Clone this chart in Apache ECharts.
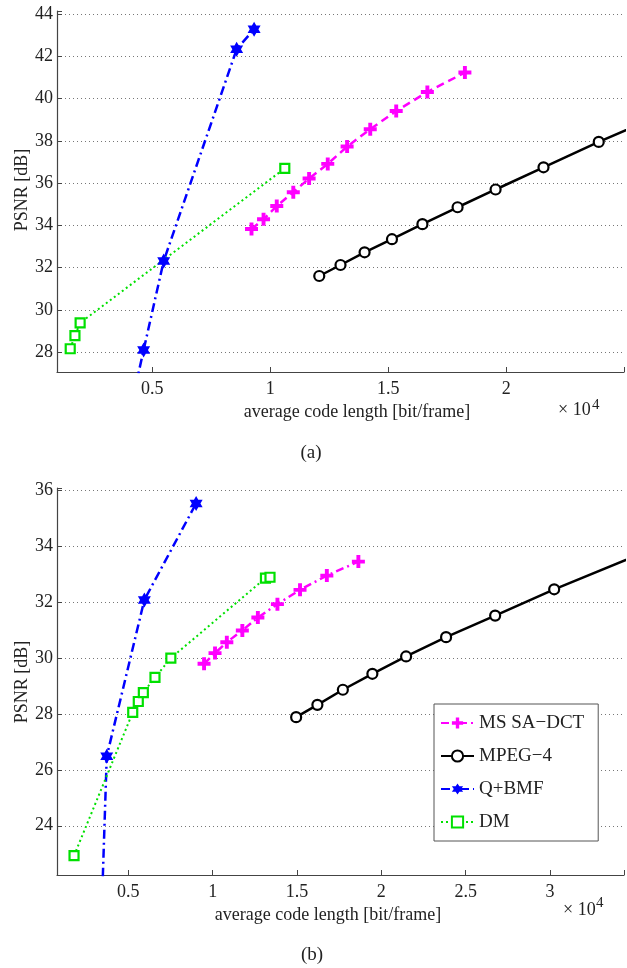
<!DOCTYPE html>
<html>
<head>
<meta charset="utf-8">
<title>PSNR vs code length</title>
<script src="https://cdn.jsdelivr.net/npm/echarts@6/dist/echarts.min.js"></script>
<style>
    html, body {margin: 0; padding: 0; background: #fff;}
    #main {width: 627px; height: 968px;}
</style>
</head>
<body>
<div id="main"></div>
<script>
// (a) 上图数据
var xA_ms = [0.921, 0.972, 1.028, 1.098, 1.165, 1.244, 1.326, 1.424, 1.534, 1.666, 1.825];
var yA_ms = [33.83, 34.29, 34.92, 35.57, 36.22, 36.91, 37.73, 38.55, 39.41, 40.31, 41.23];
var xA_mpeg = [1.208, 1.298, 1.400, 1.516, 1.645, 1.794, 1.955, 2.158, 2.392, 2.62];
var yA_mpeg = [31.61, 32.13, 32.73, 33.35, 34.06, 34.86, 35.70, 36.75, 37.95, 39.05];
var xA_q = [0.43, 0.464, 0.549, 0.858, 0.932];
var yA_q = [26.4, 28.11, 32.32, 42.33, 43.28];
var xA_dm = [0.153, 0.173, 0.195, 1.062];
var yA_dm = [28.17, 28.79, 29.39, 36.70];

// (b) 下图数据
var xB_ms = [0.949, 1.014, 1.084, 1.176, 1.268, 1.384, 1.518, 1.677, 1.864];
var yB_ms = [29.79, 30.17, 30.56, 30.98, 31.44, 31.92, 32.43, 32.94, 33.44];
var xB_mpeg = [1.495, 1.621, 1.772, 1.947, 2.147, 2.384, 2.675, 3.025, 3.55];
var yB_mpeg = [27.88, 28.32, 28.86, 29.43, 30.05, 30.74, 31.51, 32.45, 33.75];
var xB_q = [0.345, 0.372, 0.595, 0.902];
var yB_q = [21.5, 26.48, 32.07, 35.52];
var xB_dm = [0.178, 0.526, 0.559, 0.589, 0.658, 0.752, 1.313, 1.340];
var yB_dm = [22.93, 28.05, 28.44, 28.76, 29.30, 29.99, 32.85, 32.88];

var names = ['MS SA\u2212DCT', 'MPEG\u22124', 'Q+BMF', 'DM'];

var FONT = 'Liberation Serif';
var PLUS = 'path://M3.5,0h3v3.5h3.5v3h-3.5v3.5h-3v-3.5h-3.5v-3h3.5z';
var HEXA = 'path://M10,0L12.89,5L18.66,5L15.77,10L18.66,15L12.89,15L10,20L7.11,15L1.34,15L4.23,10L1.34,5L7.11,5Z';

function pairs(xs, ys) {
    return xs.map(function (x, i) { return [x, ys[i]]; });
}

function xAxisOf(idx, min, max) {
    return {
        type: 'value', gridIndex: idx, min: min, max: max,
        splitNumber: 6, minInterval: 0.5, maxInterval: 0.5,
        axisLine: {lineStyle: {color: '#444', width: 1.2}},
        axisTick: {inside: true, length: 5, lineStyle: {color: '#444'}},
        axisLabel: {
            margin: 8, color: '#222', fontFamily: FONT, fontSize: 18,
            formatter: function (v) {
                return Math.abs(v * 2 - Math.round(v * 2)) < 1e-6 ? String(v) : '';
            }
        },
        splitLine: {show: false}
    };
}

function yAxisOf(idx, min, max) {
    return {
        type: 'value', gridIndex: idx, min: min, max: max,
        splitNumber: 8, minInterval: 2, maxInterval: 2,
        axisLine: {show: true, lineStyle: {color: '#444', width: 1.2}},
        axisTick: {show: true, inside: true, length: 5, lineStyle: {color: '#444'}},
        axisLabel: {
            margin: 4, color: '#222', fontFamily: FONT, fontSize: 18,
            formatter: function (v) {
                return Math.abs(v - Math.round(v)) < 1e-6 ? String(v) : '';
            }
        },
        splitLine: {
            show: true, showMinLine: false, showMaxLine: false,
            lineStyle: {color: '#777', width: 1, type: [1, 3]}
        }
    };
}

function series(name, idx, data, style) {
    return {
        name: name, type: 'line', xAxisIndex: idx, yAxisIndex: idx,
        data: data, clip: true, showAllSymbol: true,
        symbol: style.symbol, symbolSize: style.size, symbolKeepAspect: true,
        lineStyle: {color: style.color, width: style.width, type: style.dash},
        itemStyle: {color: style.fill, borderColor: style.color, borderWidth: style.border},
        emphasis: {disabled: true}
    };
}

var S_MS = {color: '#ff00ff', fill: '#ff00ff', symbol: PLUS, size: 13, width: 2.5, border: 0};
var S_MPEG = {color: '#000', fill: '#fff', symbol: 'circle', size: 10, width: 2.5, border: 2.2, dash: 'solid'};
var S_Q = {color: '#0000ff', fill: '#0000ff', symbol: HEXA, size: 15, width: 2.5, border: 0, dash: [9, 4, 2, 4]};
var S_DM = {color: '#00e000', fill: '#fff', symbol: 'rect', size: 9, width: 2, border: 2.2, dash: [2, 3]};

function withDash(s, dash) {
    var o = {};
    for (var k in s) o[k] = s[k];
    o.dash = dash;
    return o;
}

var chart = echarts.init(document.getElementById('main'), null, {renderer: 'canvas'});

var option = {
    animation: false,
    backgroundColor: '#fff',
    grid: [
        {left: 57, top: 11, width: 567, height: 361},
        {left: 57, top: 488, width: 567, height: 387}
    ],
    xAxis: [xAxisOf(0, 0.097, 2.499), xAxisOf(1, 0.077, 3.439)],
    yAxis: [yAxisOf(0, 27.07, 44.14), yAxisOf(1, 22.24, 36.07)],
    legend: {
        data: names,
        orient: 'vertical',
        left: 434, top: 704,
        padding: [9, 14, 9, 6],
        itemGap: 13,
        itemWidth: 33, itemHeight: 14,
        backgroundColor: '#fff',
        borderColor: '#555', borderWidth: 1,
        selectedMode: false,
        textStyle: {fontFamily: FONT, fontSize: 19, color: '#222', lineHeight: 20}
    },
    series: [
        // 下图 (b)，放前面以便图例取它们的线型
        series(names[0], 1, pairs(xB_ms, yB_ms), withDash(S_MS, [8, 4, 2, 4])),
        series(names[1], 1, pairs(xB_mpeg, yB_mpeg), S_MPEG),
        series(names[2], 1, pairs(xB_q, yB_q), S_Q),
        series(names[3], 1, pairs(xB_dm, yB_dm), S_DM),
        // 上图 (a)
        series('a1', 0, pairs(xA_ms, yA_ms), withDash(S_MS, [8, 5])),
        series('a2', 0, pairs(xA_mpeg, yA_mpeg), S_MPEG),
        series('a3', 0, pairs(xA_q, yA_q), S_Q),
        series('a4', 0, pairs(xA_dm, yA_dm), S_DM)
    ],
    graphic: [
        {type: 'text', x: 22, y: 190, rotation: Math.PI / 2,
            style: {text: 'PSNR [dB]', font: '18px "Liberation Serif"', fill: '#222', align: 'center', verticalAlign: 'middle'}},
        {type: 'text', x: 22, y: 682, rotation: Math.PI / 2,
            style: {text: 'PSNR [dB]', font: '18px "Liberation Serif"', fill: '#222', align: 'center', verticalAlign: 'middle'}},
        {type: 'text', x: 357, y: 412,
            style: {text: 'average code length [bit/frame]', font: '18px "Liberation Serif"', fill: '#222', align: 'center', verticalAlign: 'middle'}},
        {type: 'text', x: 328, y: 915,
            style: {text: 'average code length [bit/frame]', font: '18px "Liberation Serif"', fill: '#222', align: 'center', verticalAlign: 'middle'}},
        {type: 'text', x: 558, y: 410,
            style: {text: '\u00d7 10', font: '18px "Liberation Serif"', fill: '#222', align: 'left', verticalAlign: 'middle'}},
        {type: 'text', x: 592, y: 405,
            style: {text: '4', font: '15px "Liberation Serif"', fill: '#222', align: 'left', verticalAlign: 'middle'}},
        {type: 'text', x: 563, y: 910,
            style: {text: '\u00d7 10', font: '18px "Liberation Serif"', fill: '#222', align: 'left', verticalAlign: 'middle'}},
        {type: 'text', x: 596, y: 903,
            style: {text: '4', font: '15px "Liberation Serif"', fill: '#222', align: 'left', verticalAlign: 'middle'}},
        {type: 'text', x: 311, y: 453,
            style: {text: '(a)', font: '19px "Liberation Serif"', fill: '#222', align: 'center', verticalAlign: 'middle'}},
        {type: 'text', x: 312, y: 955,
            style: {text: '(b)', font: '19px "Liberation Serif"', fill: '#222', align: 'center', verticalAlign: 'middle'}}
    ]
};

chart.setOption(option);
</script>
</body>
</html>
